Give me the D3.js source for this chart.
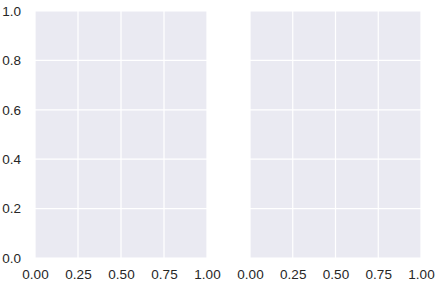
<!DOCTYPE html>
<html>
<head>
<meta charset="utf-8">
<script src="https://d3js.org/d3.v7.min.js"></script>
<style>
  body { margin: 0; background: #fff; }
  svg text { font-family: "Liberation Sans", Arial, sans-serif; font-size: 13.5px; fill: #262626; }
  .grid line { stroke: #fff; stroke-width: 1.2; }
</style>
</head>
<body>
<div id="chart"></div>
<script>
// two empty panels, shared y
var panels = ["left", "right"];
var xTicks = [0, 0.25, 0.5, 0.75, 1.0];
var yTicks = [0, 0.2, 0.4, 0.6, 0.8, 1.0];
var xDomain = [0, 1];
var yDomain = [0, 1];

var W = 438, H = 283;
var svg = d3.select("#chart").append("svg").attr("width", W).attr("height", H);

var plotTop = 11, plotBottom = 258;
var panelX = [[35, 207], [250, 421]];

var y = d3.scaleLinear().domain(yDomain).range([plotBottom, plotTop]);

panels.forEach(function(p, i) {
  var x = d3.scaleLinear().domain(xDomain).range(panelX[i]);
  var g = svg.append("g");

  g.append("rect")
    .attr("x", x(0)).attr("y", y(1))
    .attr("width", x(1) - x(0)).attr("height", y(0) - y(1))
    .attr("fill", "#EAEAF2");

  var grid = g.append("g").attr("class", "grid");
  grid.selectAll(".vx").data(xTicks).enter().append("line")
    .attr("x1", function(d) { return x(d); }).attr("x2", function(d) { return x(d); })
    .attr("y1", y(0)).attr("y2", y(1));
  grid.selectAll(".hy").data(yTicks).enter().append("line")
    .attr("y1", function(d) { return y(d); }).attr("y2", function(d) { return y(d); })
    .attr("x1", x(0)).attr("x2", x(1));

  var xa = g.append("g")
    .attr("transform", "translate(0," + plotBottom + ")")
    .call(d3.axisBottom(x).tickValues(xTicks).tickFormat(d3.format(".2f")).tickSize(0).tickPadding(11));
  xa.select(".domain").remove();

  if (i == 0) {
    var ya = g.append("g")
      .attr("transform", "translate(" + x(0) + ",0)")
      .call(d3.axisLeft(y).tickValues(yTicks).tickFormat(d3.format(".1f")).tickSize(0).tickPadding(14));
    ya.select(".domain").remove();
  }
});
svg.selectAll("g").attr("font-family", null).attr("font-size", null);
</script>
</body>
</html>
